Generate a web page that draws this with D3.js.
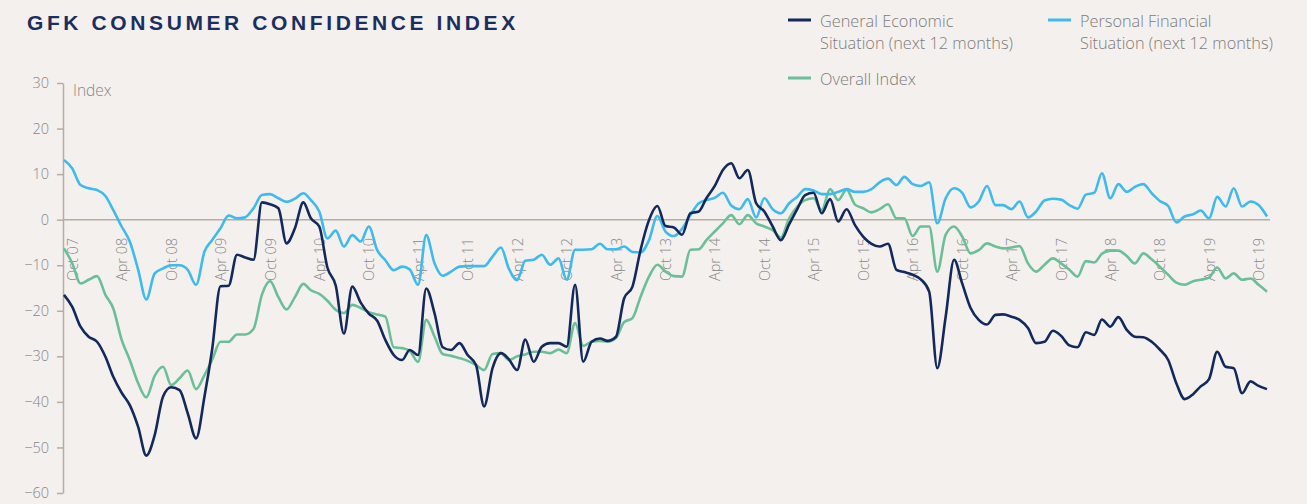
<!DOCTYPE html>
<html>
<head>
<meta charset="utf-8">
<script src="https://cdn.jsdelivr.net/npm/d3@7"></script>
<style>
  body { margin: 0; background: #f4f0ed; }
  svg { display: block; }
  text { font-family: "Open Sans", "Liberation Sans", sans-serif; }
</style>
</head>
<body>
<svg width="1307" height="504"></svg>
<script>
// monthly readings, Sep 2007 .. Nov 2019
var startMonth = new Date(2007, 8, 1);
var endMonth = new Date(2019, 10, 1);

var generalEconomic = [
  -16.5, -19.1, -23.5, -25.7, -26.8, -30.1, -34.5, -38, -40.7, -45.5,
  -51.8, -47.3, -38.8, -36.8, -37.4, -42.5, -48, -38.8, -28.6, -14.6,
  -14.5, -7.7, -8.3, -8.8, 3.8, 3.4, 2.5, -5.2, -1.9, 3.8,
  0.3, -1.5, -10.5, -14.5, -25, -14.7, -18.2, -20.6, -22.2, -26.4,
  -29.7, -30.8, -28.6, -29.7, -15.1, -20.6, -28, -28.6, -27.1, -29.7,
  -31.9, -41, -32.6, -29.3, -30.6, -33, -26.3, -31.2, -27.9, -27.1,
  -27.1, -27.9, -14.3, -31.2, -26.8, -26.1, -26.6, -25.7, -17.3, -14.7,
  -6.6, -0.1, 3, -1.4, -1.7, -3.3, 1.4, 1.8, 4.7, 7.4,
  10.9, 12.4, 9.1, 10.9, 3.6, 1.8, -1.5, -4.5, -1, 2.5,
  5.4, 5.9, 1.4, 4.5, -0.4, 2.3, -1.2, -3.7, -5.3, -5.9,
  -5.3, -11, -11.5, -12.1, -13.1, -15.8, -32.6, -21.3, -8.8, -14,
  -19.4, -22, -23, -20.9, -20.8, -21.3, -22, -23.8, -27.1, -26.8,
  -24.4, -25.5, -27.6, -28, -24.7, -25.3, -21.9, -23.5, -21.4, -24.2,
  -25.7, -25.8, -26.8, -28.5, -30.8, -35.9, -39.4, -38.3, -36.6, -35,
  -29, -32.3, -32.6, -38.1, -35.5, -36.5, -37.2
];

var personalFinancial = [
  13.1, 11.3, 7.6, 6.9, 6.5, 5.2, 2.1, -1.5, -4.8, -11,
  -17.5, -11.8, -10.7, -10, -10, -11, -14.3, -7, -4.5, -1.9,
  0.9, 0.3, 0.5, 2.5, 5.4, 5.6, 4.7, 3.9, 4.6, 5.8,
  4.3, 1.8, -4.1, -2.4, -5.9, -3.4, -4.8, -1.5, -6.7, -8.9,
  -11.1, -10.3, -10.9, -14.3, -3.4, -9.6, -12.3, -11.4, -10.3, -10.2,
  -10.2, -10.2, -8.1, -6.1, -10.7, -13.3, -9, -8.8, -7.7, -9.9,
  -8.5, -13.2, -6.6, -6.6, -6.5, -5.3, -6.5, -6.5, -5.9, -7.1,
  -7.2, -4.5, 0.8, -2.6, -3.6, -2, 1, 3.6, 4.3, 4.8,
  5.9, 3.1, 2.3, 4.5, 0.5, 4.7, 2.3, 1.4, 3.6, 5.1,
  6.7, 6.4, 5.6, 5.6, 6.1, 6.7, 6.1, 6.1, 6.7, 8.2,
  9, 7.6, 9.4, 7.8, 7.4, 8.2, -0.8, 4.7, 6.9, 5.9,
  2.7, 4, 7.4, 3.2, 3.2, 2.3, 4, 0.5, 1.8, 4.2,
  4.6, 4.4, 3.2, 2.4, 5.5, 5.9, 10.2, 4.7, 7.8, 6.1,
  7.2, 7.8, 5.8, 4.1, 3, -0.6, 0.7, 1.2, 2, 0.3,
  5, 2.9, 6.9, 2.9, 4, 3.2, 0.7
];

var overallIndex = [
  -6.3, -9.5, -14, -13.2, -12.4, -16.5, -19.5, -26.4, -30.8, -35.9,
  -39, -34.3, -32.3, -36.3, -34.8, -33.1, -37.2, -34.1, -30.8, -26.8,
  -26.8, -25.2, -25.2, -24, -16.5, -13.5, -17, -19.7, -17, -14.1,
  -15.5, -16.3, -17.8, -19.8, -20.5, -18.7, -19.4, -20.3, -20.8, -21.3,
  -28, -28.2, -28.8, -31.2, -22, -25.7, -29.5, -29.9, -30.4, -31,
  -31.9, -33, -29.5, -29.3, -30.8, -30, -29.6, -29, -29, -29.3,
  -28.5, -29.3, -22.7, -27.7, -26.8, -26.6, -26.8, -26, -22.5, -21.6,
  -16.9, -12.5, -9.9, -11.4, -12.4, -12.5, -6.6, -6.5, -4.5, -2.6,
  -0.8, 1, -1, 1, -0.8, -1.5, -2.3, -3.9, 0.3, 2.9,
  4.3, 4.7, 2.1, 6.7, 4.3, 6.6, 3.3, 2.5, 1.6, 2.3,
  3.4, 0.3, 0.3, -3.6, -1.5, -1.5, -11.4, -3.3, -1.5, -3.7,
  -7.4, -6.7, -5.2, -5.9, -6.3, -6.1, -5.8, -9.6, -11.4, -9.9,
  -8.5, -9.6, -11, -12.5, -9.1, -9.4, -7.5, -6.8, -6.8, -8,
  -9.6, -7.4, -8.7, -10.3, -12.1, -13.8, -14.3, -13.5, -13.2, -12.7,
  -10.5, -12.9, -11.8, -13.2, -12.9, -14.3, -15.8
];

var tickLabels = ["Oct 07", "Apr 08", "Oct 08", "Apr 09", "Oct 09", "Apr 10", "Oct 10",
  "Apr 11", "Oct 11", "Apr 12", "Oct 12", "Apr 13", "Oct 13", "Apr 14", "Oct 14",
  "Apr 15", "Oct 15", "Apr 16", "Oct 16", "Apr 17", "Oct 17", "Apr 18", "Oct 18",
  "Apr 19", "Oct 19"];
var yTicks = [30, 20, 10, 0, -10, -20, -30, -40, -50, -60];

var months = d3.timeMonth.range(startMonth, d3.timeMonth.offset(endMonth, 1));
var parseLabel = d3.timeParse("%b %y");

var svg = d3.select("svg");

var x = d3.scaleTime().domain([startMonth, endMonth]).range([64, 1267]);
var y = d3.scaleLinear().domain([-60, 30]).range([493, 83]);

var axisCol = "#b5aca2";
var textCol = "#878787";

// title
svg.append("text")
  .attr("x", 27).attr("y", 30)
  .attr("fill", "#1b2f5e")
  .attr("font-size", 21)
  .attr("font-weight", "bold")
  .attr("letter-spacing", 3.6)
  .style("font-family", "'Liberation Sans', Arial, sans-serif")
  .text("GFK CONSUMER CONFIDENCE INDEX");

// zero line
svg.append("line")
  .attr("x1", x(startMonth) - 1).attr("x2", x(endMonth) + 3)
  .attr("y1", y(0)).attr("y2", y(0))
  .attr("stroke", axisCol).attr("stroke-width", 1.5);

// y axis
var yAxis = svg.append("g")
  .attr("transform", "translate(63,0)")
  .call(d3.axisLeft(y).tickValues(yTicks).tickSize(6).tickSizeOuter(0).tickPadding(8));
yAxis.select(".domain").attr("stroke", axisCol).attr("stroke-width", 1.5);
yAxis.selectAll(".tick line").attr("stroke", axisCol).attr("stroke-width", 1.5);
yAxis.selectAll(".tick text")
  .attr("fill", textCol)
  .attr("font-size", 14.5)
  .style("font-family", "'Open Sans', sans-serif")
  .style("font-weight", 300);

svg.append("text")
  .attr("x", 73).attr("y", 96)
  .attr("fill", textCol)
  .attr("font-size", 15.5)
  .style("font-weight", 300)
  .text("Index");

// x labels, rotated, starting just under the zero line
var xAxis = svg.append("g")
  .attr("transform", "translate(0,281)")
  .call(d3.axisBottom(x)
    .tickValues(tickLabels.map(function(t){ return parseLabel(t); }))
    .tickFormat(d3.timeFormat("%b %y"))
    .tickSize(0));
xAxis.select(".domain").remove();
xAxis.selectAll(".tick text")
  .attr("transform", "rotate(-90)")
  .attr("x", 0).attr("y", 0).attr("dy", "0.35em")
  .attr("text-anchor", "start")
  .attr("fill", textCol)
  .attr("font-size", 14.5)
  .style("font-family", "'Open Sans', sans-serif")
  .style("font-weight", 300);

// lines
var series = [
  { name: "green", values: overallIndex, color: "#6bbf98" },
  { name: "blue", values: personalFinancial, color: "#3fbaec" },
  { name: "navy", values: generalEconomic, color: "#14295b" }
];

var line = d3.line()
  .x(function(d, i){ return x(months[i]); })
  .y(function(d){ return y(d); })
  .curve(d3.curveMonotoneX);

series.forEach(function(s){
  svg.append("path")
    .datum(s.values)
    .attr("d", line)
    .attr("fill", "none")
    .attr("stroke", s.color)
    .attr("stroke-width", 2.6)
    .attr("stroke-linejoin", "round");
});

// legend
var legend = [
  { lines: ["General Economic", "Situation (next 12 months)"], color: "#14295b", x: 788, y: 20 },
  { lines: ["Personal Financial", "Situation (next 12 months)"], color: "#3fbaec", x: 1048, y: 20 },
  { lines: ["Overall Index"], color: "#6bbf98", x: 788, y: 78 }
];
legend.forEach(function(l){
  svg.append("line")
    .attr("x1", l.x).attr("x2", l.x + 23)
    .attr("y1", l.y).attr("y2", l.y)
    .attr("stroke", l.color).attr("stroke-width", 3);
  var t = svg.append("text")
    .attr("x", l.x + 32).attr("y", l.y + 7)
    .attr("fill", "#7c7c7c")
    .attr("font-size", 16.3)
    .style("font-weight", 300);
  l.lines.forEach(function(s, k){
    t.append("tspan").attr("x", l.x + 32).attr("dy", k === 0 ? 0 : 21.5).text(s);
  });
});
</script>
</body>
</html>
